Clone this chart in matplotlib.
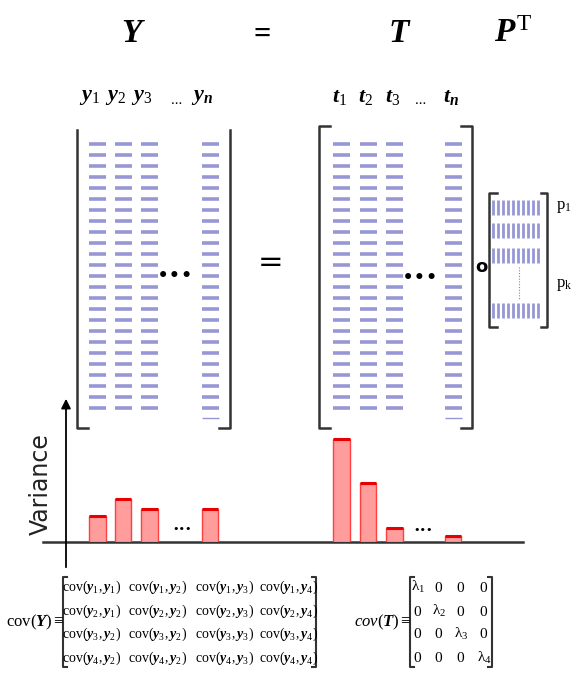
import matplotlib
matplotlib.use("Agg")
import matplotlib.pyplot as plt
import numpy as np

plt.rcParams["mathtext.fontset"] = "custom"
plt.rcParams["mathtext.rm"] = "Liberation Serif"
plt.rcParams["mathtext.it"] = "Liberation Serif:italic:bold"
plt.rcParams["mathtext.bf"] = "Liberation Serif:bold"
plt.rcParams["mathtext.sf"] = "Liberation Serif:italic"

# data
y_labels = ["y_1", "y_2", "y_3", "y_n"]
t_labels = ["t_1", "t_2", "t_3", "t_n"]
y_variance = [2.5, 4.25, 3.2, 3.2]
t_variance = [10.2, 5.8, 1.3, 0.5]
p_labels = ["1", "k"]
cov_y = [
    ["cov(y_1,y_1)", "cov(y_1,y_2)", "cov(y_1,y_3)", "cov(y_1,y_4)"],
    ["cov(y_2,y_1)", "cov(y_2,y_2)", "cov(y_2,y_3)", "cov(y_2,y_4)"],
    ["cov(y_3,y_2)", "cov(y_3,y_2)", "cov(y_3,y_3)", "cov(y_3,y_4)"],
    ["cov(y_4,y_2)", "cov(y_4,y_2)", "cov(y_4,y_3)", "cov(y_4,y_4)"],
]
cov_t = [
    ["\\lambda_1", "0", "0", "0"],
    ["0", "\\lambda_2", "0", "0"],
    ["0", "0", "\\lambda_3", "0"],
    ["0", "0", "0", "\\lambda_4"],
]

# layout (pixels)
y_cols = [97.5, 123, 149.5, 210]
t_cols = [341.5, 368, 394.5, 453]
rows = 144 + 11 * np.arange(25)
dash_col = "#9797d6"
dark = "#333333"

fig = plt.figure(figsize=(5.76, 6.81), dpi=100)
ax = fig.add_axes([0, 0, 1, 1])
ax.set_xlim(0, 576)
ax.set_ylim(681, 0)
ax.axis("off")

# titles
ax.text(133, 32, "$Y$", fontsize=24, ha="center", va="center")
ax.text(262, 35, "=", fontsize=22, ha="center", va="center", family="Liberation Serif", weight="bold")
ax.text(400, 32, "$T$", fontsize=24, ha="center", va="center")
ax.text(513, 32, "$P^{\\mathrm{T}}$", fontsize=24, ha="center", va="center")

# column labels
for x, lab in zip(y_cols, y_labels):
    ax.text(x - 8, 97, "$" + lab + "$", fontsize=16, ha="center", va="center")
for x, lab in zip(t_cols, t_labels):
    ax.text(x - 2, 97, "$" + lab + "$", fontsize=16, ha="center", va="center")
ax.text(177, 100, "...", fontsize=11, ha="center", va="center", family="Liberation Serif")
ax.text(421, 100, "...", fontsize=11, ha="center", va="center", family="Liberation Serif")

# matrix dashes
for x in y_cols + t_cols:
    ax.hlines(rows, x - 8.5, x + 8.5, color=dash_col, lw=2.6)
ax.hlines([418], y_cols[-1] - 8.5, y_cols[-1] + 8.5, color=dash_col, lw=1.0)
ax.hlines([418], t_cols[-1] - 8.5, t_cols[-1] + 8.5, color=dash_col, lw=1.0)

# Y brackets
ax.plot([77, 77, 88], [130, 428, 428], color=dark, lw=1.8)
ax.plot([219, 230, 230], [428, 428, 130], color=dark, lw=1.8)
# T brackets
ax.plot([330, 319, 319, 330], [126, 126, 428, 428], color=dark, lw=1.8)
ax.plot([461, 472, 472, 461], [126, 126, 428, 428], color=dark, lw=1.8)

ax.text(175, 276, "\u2022\u2022\u2022", fontsize=15, ha="center", va="center")
ax.text(420, 278, "\u2022\u2022\u2022", fontsize=15, ha="center", va="center")
ax.text(271, 263, "=", fontsize=22, ha="center", va="center", family="DejaVu Sans")
ax.text(481, 267, "o", fontsize=13, ha="center", va="center", weight="bold")

# P matrix
p_rows = [207, 230, 255.5, 310.5]
p_x = 493 + 5 * np.arange(10)
for yc in p_rows:
    ax.vlines(p_x, yc - 7.5, yc + 7.5, color=dash_col, lw=2.0)
ax.vlines([519], 267, 299, color="#888888", lw=0.8, linestyles=(0, (1, 1.5)))
ax.plot([497, 489, 489, 497], [193, 193, 327, 327], color=dark, lw=1.8)
ax.plot([541, 547, 547, 541], [193, 193, 327, 327], color=dark, lw=1.8)
for yc, lab in zip([207, 285], p_labels):
    ax.text(556, yc, "p$_{\\mathrm{" + lab + "}}$", fontsize=12, ha="left", va="center",
            family="Liberation Serif")

# variance axis
ax.annotate("", xy=(66, 396), xytext=(66, 570),
            arrowprops=dict(arrowstyle="-|>", color="black", lw=1.3, mutation_scale=14))
ax.plot([43, 523], [541.5, 541.5], color=dark, lw=1.8)
ax.text(41, 484, "Variance", rotation=90, fontsize=17, ha="center", va="center",
        family="DejaVu Sans", color="#222222")

bax = fig.add_axes([43 / 576, 1 - 541.5 / 681, 480 / 576, (541.5 - 395) / 681])
bax.set_xlim(43, 523)
bax.set_ylim(0, 14.6)
bax.axis("off")
bax.patch.set_alpha(0)
for cols, vals in [(y_cols, y_variance), (t_cols, t_variance)]:
    bax.bar(cols, vals, width=16.5, color="#ff9c9c", edgecolor="#ff4040", lw=1.0)
    bax.hlines(vals, np.array(cols) - 8.25, np.array(cols) + 8.25, color="#e80000", lw=2.2)
ax.text(182, 529, "\u2022\u2022\u2022", fontsize=8, ha="center", va="center")
ax.text(423, 530, "\u2022\u2022\u2022", fontsize=8, ha="center", va="center")

# cov(Y)
cov_rows = [587, 611, 634, 658]
cy_cols = [92, 158, 225, 289]
ax.text(35, 622, "$\\mathrm{cov}(Y)\\equiv$", fontsize=12, ha="center", va="center")
for r, row in zip(cov_rows, cov_y):
    for c, s in zip(cy_cols, row):
        name, args = s.split("(")
        ax.text(c, r, "$\\mathrm{" + name + "}(" + args.rstrip(")") + ")$", fontsize=10,
                ha="center", va="center")
ax.plot([67, 63, 63, 67], [577, 577, 667, 667], color=dark, lw=1.5)
ax.plot([312, 316, 316, 312], [577, 577, 667, 667], color=dark, lw=1.5)

# cov(T)
ct_cols = [418, 439, 461, 484]
ax.text(383, 622, "$\\mathsf{cov}(T)\\equiv$", fontsize=12, ha="center", va="center")
for r, row in zip(cov_rows, cov_t):
    for c, s in zip(ct_cols, row):
        ax.text(c, r, "$\\mathrm{" + s + "}$", fontsize=11, ha="center", va="center")
ax.plot([414, 410, 410, 414], [577, 577, 667, 667], color=dark, lw=1.5)
ax.plot([488, 492, 492, 488], [577, 577, 667, 667], color=dark, lw=1.5)

fig.savefig("out.png", dpi=100)
